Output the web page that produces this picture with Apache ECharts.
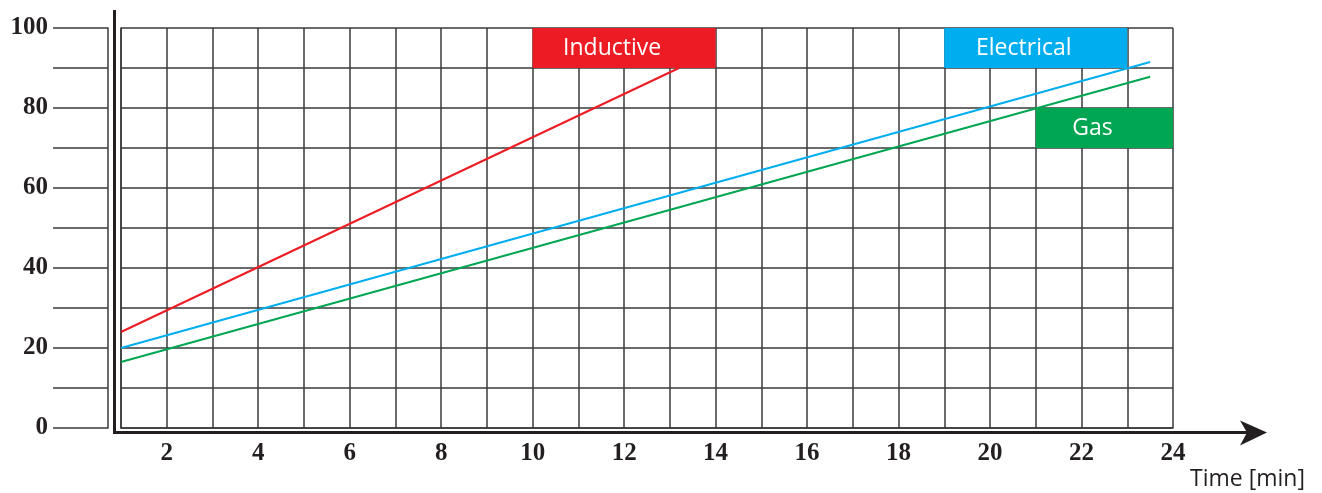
<!DOCTYPE html>
<html>
<head>
<meta charset="utf-8">
<script src="https://cdn.jsdelivr.net/npm/echarts@6/dist/echarts.min.js"></script>
<style>
html,body{margin:0;padding:0;background:#fff;}
#chart{width:1322px;height:493px;}
</style>
</head>
<body>
<div id="chart"></div>
<script>
// ---- data ----
const xMin = 1, xMax = 24, xStep = 1;
const yMin = 0, yMax = 100, yStep = 10;
const inductive = [[1, 24], [13.2, 90]];
const electrical = [[1, 20], [23.5, 91.5]];
const gas = [[1, 16.5], [23.5, 87.8]];
const boxNames = ['Inductive', 'Electrical', 'Gas'];
const boxX0 = [10, 19, 21];
const boxX1 = [14, 23, 24];
const boxY0 = [90, 90, 70];
const boxY1 = [100, 100, 80];
const xAxisName = 'Time [min]';

const RED = '#ed1c24', BLUE = '#00aeef', GREEN = '#00a651';
const boxColors = [RED, BLUE, GREEN];
const INK = '#231f20';
const GRIDC = '#3a3a3a';

const boxData = boxNames.map((n, i) => [boxX0[i], boxX1[i], boxY0[i], boxY1[i], n, i]);

const chart = echarts.init(document.getElementById('chart'), null, {renderer: 'canvas'});

const option = {
  animation: false,
  backgroundColor: '#fff',
  grid: {left: 121, right: 149, top: 28, bottom: 65, containLabel: false},
  xAxis: {
    type: 'value', min: xMin, max: xMax, interval: xStep,
    axisLine: {show: true, lineStyle: {color: GRIDC, width: 1.5}},
    axisTick: {show: false},
    axisLabel: {
      formatter: v => (v % 2 === 0 ? String(v) : ''),
      fontFamily: 'Liberation Serif', fontSize: 25, fontWeight: 'bold', color: INK, margin: 13
    },
    splitLine: {show: true, lineStyle: {color: GRIDC, width: 1.5}}
  },
  yAxis: [
    {
      type: 'value', min: yMin, max: yMax, interval: yStep,
      axisLine: {show: true, lineStyle: {color: GRIDC, width: 1.5}},
      axisTick: {show: false},
      axisLabel: {show: false},
      splitLine: {show: true, lineStyle: {color: GRIDC, width: 1.5}}
    },
    {
      type: 'value', min: yMin, max: yMax, interval: yStep,
      position: 'left', offset: 13,
      axisLine: {show: true, lineStyle: {color: GRIDC, width: 1.5}},
      axisTick: {show: true, inside: false, length: 55, lineStyle: {color: GRIDC, width: 1.5}},
      axisLabel: {
        formatter: v => (v % 20 === 0 ? String(v) : ''),
        fontFamily: 'Liberation Serif', fontSize: 25, fontWeight: 'bold', color: INK, margin: 60
      },
      splitLine: {show: false}
    }
  ],
  series: [
    {
      type: 'custom', z: 1, silent: true,
      encode: {x: [0, 1], y: [2, 3]},
      data: boxData,
      renderItem: function (params, api) {
        const p0 = api.coord([api.value(0), api.value(3)]);
        const p1 = api.coord([api.value(1), api.value(2)]);
        const idx = api.value(5);
        return {
          type: 'rect',
          shape: {x: p0[0], y: p0[1], width: p1[0] - p0[0], height: p1[1] - p0[1]},
          style: {fill: boxColors[idx]},
          textContent: {
            style: {text: boxNames[idx], fill: '#fff', fontFamily: 'Open Sans', fontSize: 23}
          },
          textConfig: {position: 'inside', offset: [-12, 0]}
        };
      }
    },
    {name: 'Inductive', type: 'line', z: 3, data: inductive, showSymbol: false, silent: true,
     lineStyle: {color: RED, width: 2}},
    {name: 'Electrical', type: 'line', z: 3, data: electrical, showSymbol: false, silent: true,
     lineStyle: {color: BLUE, width: 2}},
    {name: 'Gas', type: 'line', z: 3, data: gas, showSymbol: false, silent: true,
     lineStyle: {color: GREEN, width: 2}}
  ]
};
chart.setOption(option);

// decorations: thick axis with arrow, positioned from the grid's own scale
const o = chart.convertToPixel({gridIndex: 0}, [xMin, yMin]);
const e = chart.convertToPixel({gridIndex: 0}, [xMax, yMax]);
const ax = o[0] - 6.5, ay = o[1] + 4.5;
const topY = e[1] - 18;
const tipX = e[0] + 94;
chart.setOption({
  graphic: [
    {type: 'polyline', z: 10, shape: {points: [[ax, topY], [ax, ay], [tipX - 20, ay]]},
     style: {stroke: INK, lineWidth: 3, fill: null}},
    {type: 'polygon', z: 10, shape: {points: [[tipX - 27, ay - 12], [tipX, ay], [tipX - 27, ay + 13], [tipX - 20, ay]]},
     style: {fill: INK}},
    {type: 'text', z: 10, style: {text: xAxisName, x: e[0] + 17, y: o[1] + 51, fill: INK,
     fontFamily: 'Open Sans', fontSize: 23, verticalAlign: 'middle', align: 'left'}}
  ]
});
</script>
</body>
</html>
